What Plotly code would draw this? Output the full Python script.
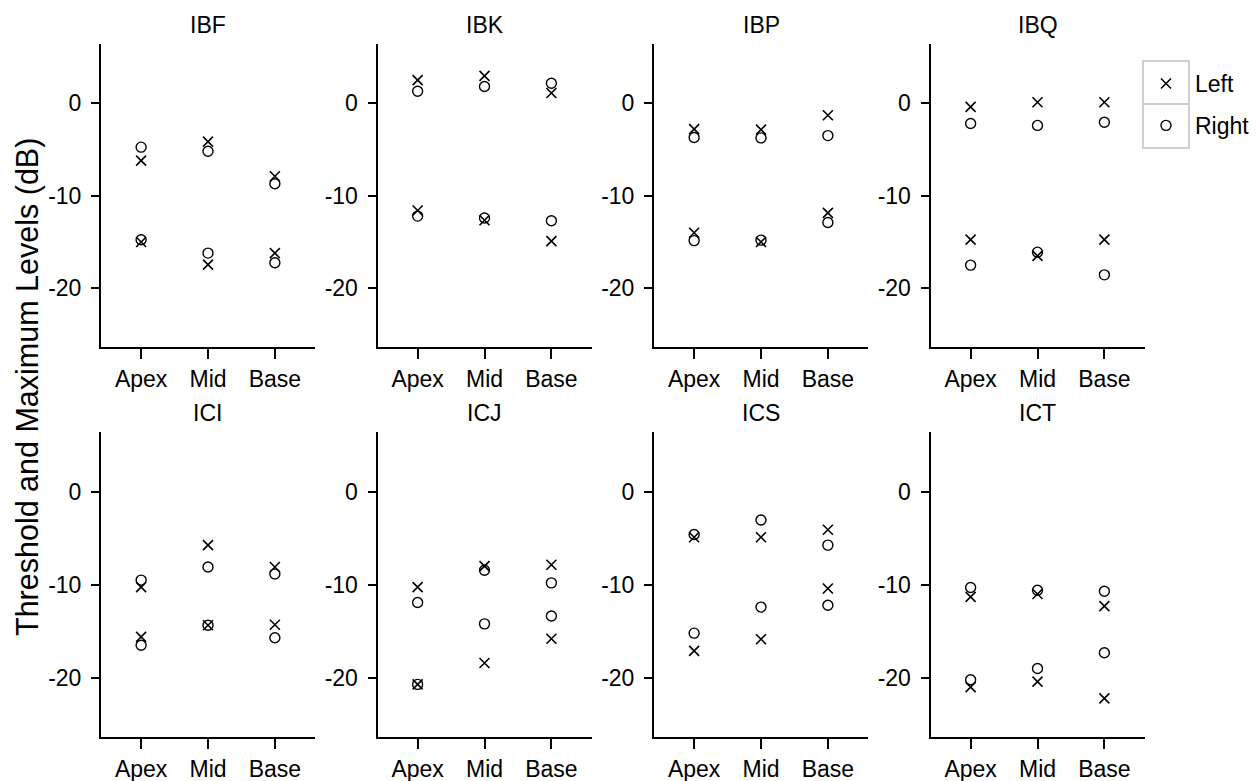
import plotly.graph_objects as go

# Electrode regions along the array and subject codes
regions = ["Apex", "Mid", "Base"]
subjects = ["IBF", "IBK", "IBP", "IBQ", "ICI", "ICJ", "ICS", "ICT"]

# Maximum levels (dB), per subject: Apex, Mid, Base
left_max = [
    [-6.2, -4.15, -7.9], [2.5, 2.95, 1.1], [-2.8, -2.85, -1.3], [-0.4, 0.1, 0.1],
    [-10.25, -5.75, -8.1], [-10.25, -8.0, -7.85], [-4.9, -4.9, -4.1], [-11.3, -11.0, -12.3],
]
right_max = [
    [-4.75, -5.2, -8.7], [1.3, 1.8, 2.15], [-3.7, -3.75, -3.5], [-2.2, -2.4, -2.05],
    [-9.5, -8.1, -8.85], [-11.9, -8.45, -9.8], [-4.6, -3.05, -5.75], [-10.3, -10.6, -10.7],
]

# Threshold levels (dB), per subject: Apex, Mid, Base
left_thr = [
    [-15.0, -17.45, -16.2], [-11.6, -12.65, -14.9], [-14.0, -15.0, -11.85], [-14.75, -16.5, -14.75],
    [-15.6, -14.35, -14.3], [-20.7, -18.4, -15.8], [-17.1, -15.85, -10.4], [-21.0, -20.4, -22.2],
]
right_thr = [
    [-14.75, -16.2, -17.25], [-12.2, -12.4, -12.7], [-14.85, -14.8, -12.9], [-17.5, -16.1, -18.55],
    [-16.5, -14.35, -15.7], [-20.7, -14.2, -13.35], [-15.2, -12.4, -12.2], [-20.2, -19.0, -17.3],
]

y_ticks = [0, -10, -20]
y_range = [-26.35, 6.4]

W, H = 1258, 781
FONT = "Liberation Sans, Arial, sans-serif"
TICK_SIZE = 23

# Panel geometry in pixels
panel_left0 = 101
panel_step = 276.5
panel_width = 214
rows_px = [(44, 347), (432, 737)]

fig = go.Figure()
layout = dict(
    width=W, height=H,
    margin=dict(l=0, r=0, t=0, b=0),
    paper_bgcolor="white", plot_bgcolor="white",
    font=dict(family=FONT, size=TICK_SIZE, color="black"),
    showlegend=True,
)

annotations = []
for i, subj in enumerate(subjects):
    row, col = divmod(i, 4)
    n = i + 1
    xa = "x" if n == 1 else f"x{n}"
    ya = "y" if n == 1 else f"y{n}"

    x0 = panel_left0 + panel_step * col
    x1 = x0 + panel_width
    top, bottom = rows_px[row]

    layout[f"xaxis{'' if n == 1 else n}"] = dict(
        domain=[x0 / W, x1 / W],
        anchor=ya,
        type="category",
        categoryorder="array", categoryarray=regions,
        range=[-0.6, 2.6],
        showline=True, linecolor="black", linewidth=2,
        ticks="outside", ticklen=10, tickwidth=2, tickcolor="black",
        showgrid=False, zeroline=False,
        tickfont=dict(family=FONT, size=TICK_SIZE, color="black"),
        fixedrange=True,
    )
    layout[f"yaxis{'' if n == 1 else n}"] = dict(
        domain=[1 - bottom / H, 1 - top / H],
        anchor=xa,
        range=y_range,
        tickmode="array", tickvals=y_ticks, ticktext=[str(v) for v in y_ticks],
        showline=True, linecolor="black", linewidth=2,
        ticks="outside", ticklen=8, tickwidth=2, tickcolor="black",
        ticklabelstandoff=5,
        showgrid=False, zeroline=False,
        tickfont=dict(family=FONT, size=TICK_SIZE, color="black"),
        fixedrange=True,
    )

    # Left ear: maximum and threshold levels
    fig.add_trace(go.Scatter(
        x=regions + regions, y=left_max[i] + left_thr[i],
        xaxis=xa, yaxis=ya, mode="markers", name="Left",
        legendgroup="Left", showlegend=(i == 0),
        marker=dict(symbol="x-thin-open", size=10, color="black",
                    line=dict(color="black", width=1.6)),
    ))
    # Right ear: maximum and threshold levels
    fig.add_trace(go.Scatter(
        x=regions + regions, y=right_max[i] + right_thr[i],
        xaxis=xa, yaxis=ya, mode="markers", name="Right",
        legendgroup="Right", showlegend=(i == 0),
        marker=dict(symbol="circle-open", size=10, color="black",
                    line=dict(color="black", width=1.4)),
    ))

    # Subject code above each panel
    annotations.append(dict(
        text=subj, xref="paper", yref="paper",
        x=(x0 + x1) / 2 / W, y=1 - (top - 19) / H,
        xanchor="center", yanchor="middle", showarrow=False,
        font=dict(family=FONT, size=TICK_SIZE, color="black"),
    ))

# Shared y-axis title
annotations.append(dict(
    text="Threshold and Maximum Levels (dB)", xref="paper", yref="paper",
    x=27 / W, y=1 - 387 / H, xanchor="center", yanchor="middle",
    textangle=-90, showarrow=False,
    font=dict(family=FONT, size=30.5, color="black"),
))

# Grey cells framing the legend symbols
leg_x0, leg_x1 = 1143, 1189
leg_rows = [(61, 104), (104, 148)]
shapes = []
for (t, b) in leg_rows:
    shapes.append(dict(
        type="rect", xref="paper", yref="paper",
        x0=leg_x0 / W, x1=leg_x1 / W, y0=1 - b / H, y1=1 - t / H,
        line=dict(color="#cfcfcf", width=2), fillcolor="rgba(0,0,0,0)",
        layer="below",
    ))

layout["annotations"] = annotations
layout["shapes"] = shapes
layout["legend"] = dict(
    x=1137 / W, y=1 - 62 / H, xanchor="left", yanchor="top",
    bgcolor="rgba(0,0,0,0)", borderwidth=0,
    font=dict(family=FONT, size=TICK_SIZE, color="black"),
    tracegroupgap=9, itemwidth=48,
)

fig.update_layout(**layout)
fig.write_html("out.html")
